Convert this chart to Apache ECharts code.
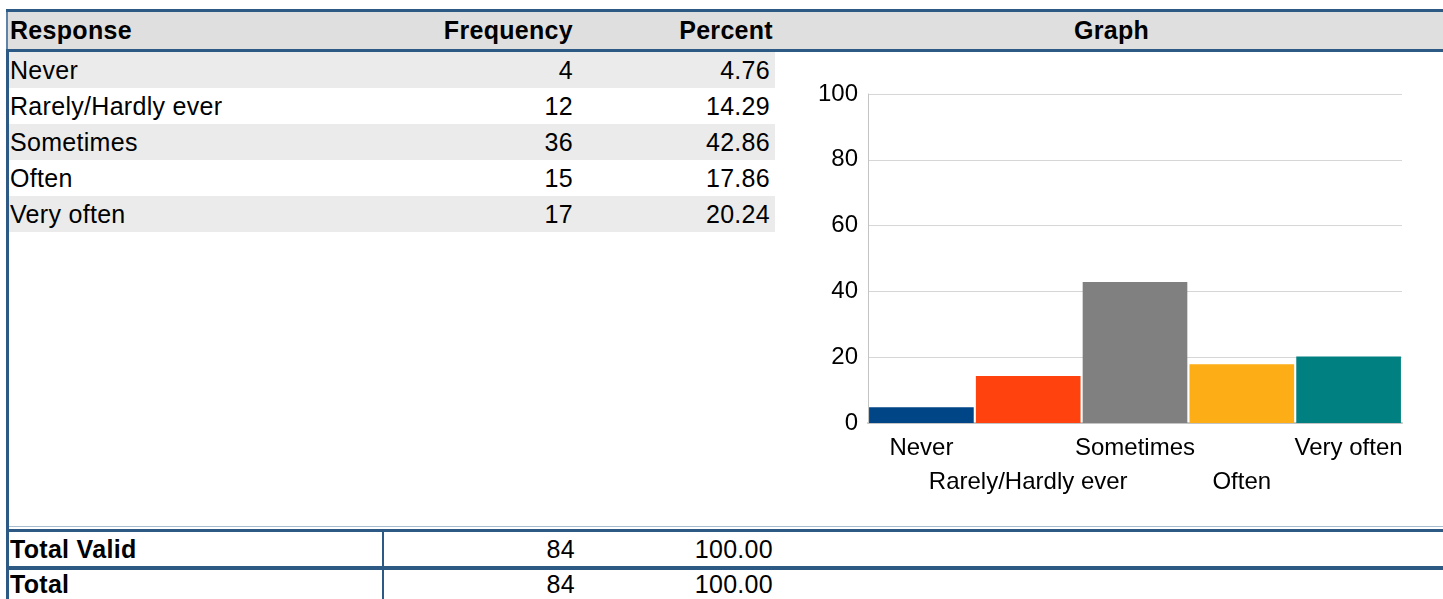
<!DOCTYPE html>
<html>
<head>
<meta charset="utf-8">
<title>Response frequency</title>
<script src="https://cdn.jsdelivr.net/npm/echarts@6/dist/echarts.min.js"></script>
<style>
  body{
  margin:0;
  width:1443px;
  height:599px;
  overflow:hidden;
  background:#fff;
  position:relative;
  font-family:Arial,"Liberation Sans",sans-serif;
  font-size:25px;
  color:#000;
  }
  .abs{position:absolute;}
  .line{position:absolute;background:#2d5a85;}
  .cell{
  position:absolute;
  display:flex;
  align-items:center;
  white-space:nowrap;
  letter-spacing:0.3px;
  }
  .right{justify-content:flex-end;}
  .bold{font-weight:bold;}
  #graph{position:absolute;left:778px;top:52px;width:665px;height:474px;}
</style>
</head>
<body>
<div id="table"></div>
<div id="graph"></div>
<script>
  // table values
  var responses = ['Never', 'Rarely/Hardly ever', 'Sometimes', 'Often', 'Very often'];
  var frequencies = [4, 12, 36, 15, 17];
  var percents = [4.76, 14.29, 42.86, 17.86, 20.24];
  var totalValid = {label: 'Total Valid', freq: 84, pct: 100.00};
  var totalAll = {label: 'Total', freq: 84, pct: 100.00};
  var headers = ['Response', 'Frequency', 'Percent', 'Graph'];
  var barColors = ['#004586', '#ff420e', '#808080', '#fdad16', '#008080'];

  var table = document.getElementById('table');
  function box(cls, left, top, width, height, text, extra) {
  var d = document.createElement('div');
  d.className = cls;
  d.style.left = left + 'px';
  d.style.top = top + 'px';
  d.style.width = width + 'px';
  d.style.height = height + 'px';
  if (text !== undefined) d.textContent = text;
  if (extra) for (var k in extra) d.style[k] = extra[k];
  table.appendChild(d);
  return d;
  }

  // header
  box('abs', 8, 12, 1435, 37, undefined, {background: '#dfdfdf'});
  box('line', 6, 9, 1437, 3);
  box('line', 6, 49, 1437, 3);
  box('abs', 6, 12, 2, 37, undefined, {background: '#5f82a8'});
  box('cell bold', 10, 12, 360, 37, headers[0]);
  box('cell bold right', 390, 12, 183, 37, headers[1]);
  box('cell bold right', 590, 12, 183, 37, headers[2]);
  box('cell bold', 779, 12, 665, 37, headers[3], {justifyContent: 'center'});

  // body rows
  var rowTop = 52, rowH = 36;
  for (var i = 0; i < responses.length; i++) {
  var y = rowTop + i * rowH;
  if (i % 2 === 0) box('abs', 9, y, 766, rowH, undefined, {background: '#ebebeb'});
  box('cell', 10, y, 360, rowH, responses[i]);
  box('cell right', 390, y, 183, rowH, String(frequencies[i]));
  box('cell right', 590, y, 180, rowH, percents[i].toFixed(2));
  }
  box('line', 6, 52, 3, 547);

  // totals
  box('abs', 9, 526, 1434, 1, undefined, {background: '#a9bdd1'});
  box('line', 6, 529, 1437, 3);
  box('cell bold', 10, 532, 360, 34, totalValid.label);
  box('cell right', 390, 532, 185, 34, String(totalValid.freq));
  box('cell right', 590, 532, 183, 34, totalValid.pct.toFixed(2));
  box('line', 6, 566, 1437, 4);
  box('cell bold', 10, 570, 360, 29, totalAll.label);
  box('cell right', 390, 570, 185, 29, String(totalAll.freq));
  box('cell right', 590, 570, 183, 29, totalAll.pct.toFixed(2));
  box('line', 382, 532, 2, 67);

  var graphChart = echarts.init(document.getElementById('graph'));
  graphChart.setOption({
  animation: false,
  grid: {left: 90, top: 42, right: 41, bottom: 103},
  xAxis: {
  type: 'category',
  data: responses,
  axisLine: {lineStyle: {color: '#c4c4c4', width: 2}},
  axisTick: {show: false},
  axisLabel: {
  interval: 0,
  margin: 8,
  color: '#000',
  fontSize: 24,
  lineHeight: 34,
  fontFamily: 'Arial, Liberation Sans, sans-serif',
  formatter: function (v, idx) { return idx % 2 ? '\n' + v : v; }
  }
  },
  yAxis: {
  type: 'value',
  min: 0,
  max: 100,
  interval: 20,
  axisLine: {show: true, lineStyle: {color: '#c4c4c4', width: 1}},
  axisTick: {show: false},
  splitLine: {lineStyle: {color: '#d6d6d6', width: 1}},
  axisLabel: {margin: 10, color: '#000', fontSize: 24, fontFamily: 'Arial, Liberation Sans, sans-serif'}
  },
  series: [{
  type: 'bar',
  data: percents,
  barCategoryGap: '2%',
  itemStyle: {
  color: function (p) { return barColors[p.dataIndex]; }
  }
  }]
  });
</script>
</body>
</html>
